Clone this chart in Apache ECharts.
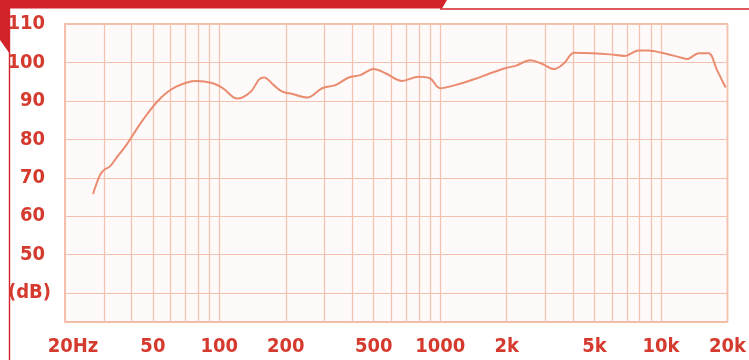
<!DOCTYPE html>
<html>
<head>
<meta charset="utf-8">
<script src="https://cdn.jsdelivr.net/npm/echarts@6/dist/echarts.min.js"></script>
<style>
html,body{margin:0;padding:0;background:#ffffff;}
#chart{width:749px;height:360px;}
</style>
</head>
<body>
<div id="chart"></div>
<script>
// Frequency response data (Hz, dB)
const freqHz = [26.8, 28.8, 30.3, 31.9, 34, 37.9, 45, 53.7, 63.8, 78.6, 93.4, 103.7, 120.5, 138.7, 151.4, 159.4, 176.3, 192.8, 214, 250, 292, 335, 385, 435, 500, 565, 671, 797, 898, 999, 1169, 1437, 1653, 1966, 2188, 2559, 2900, 3279, 3638, 4042, 4893, 5872, 6870, 7893, 8772, 10090, 12240, 13120, 14840, 16410, 17930, 19600];
const levelDb = [65.8, 70.7, 72.2, 72.9, 75.0, 78.5, 85.0, 90.5, 93.7, 95.2, 94.6, 93.3, 90.6, 92.4, 95.6, 96.1, 94.1, 92.4, 91.8, 90.9, 93.3, 94.1, 96.1, 96.7, 98.3, 97.2, 95.2, 96.3, 95.9, 93.3, 94.1, 95.7, 97.0, 98.5, 99.1, 100.6, 99.6, 98.3, 99.8, 102.5, 102.4, 102.1, 101.7, 103.1, 103.1, 102.5, 101.3, 100.9, 102.4, 102.4, 98.0, 93.5];

// Axis grid & labels
const xGridHz = [20, 30, 40, 50, 60, 70, 80, 90, 100, 200, 300, 400, 500, 600, 700, 800, 900, 1000, 2000, 3000, 4000, 5000, 6000, 7000, 8000, 9000, 10000, 20000];
const xLabelHz = [20, 50, 100, 200, 500, 1000, 2000, 5000, 10000, 20000];
const xLabelText = ['20Hz', '50', '100', '200', '500', '1000', '2k', '5k', '10k', '20k'];
const yTicks = [40, 50, 60, 70, 80, 90, 100, 110];
const yLabelText = ['(dB)', '50', '60', '70', '80', '90', '100', '110'];

const lg = v => Math.log10(v);
const seriesData = freqHz.map((f, i) => [lg(f), levelDb[i]]);

const RED = '#d2232a';
const LABEL = '#d53a2e';
const GRID = '#f5c2b1';
const FONT = "'Liberation Sans Narrow', 'DejaVu Sans Condensed', sans-serif";
const FS = 20;

const chart = echarts.init(document.getElementById('chart'), null, {renderer: 'canvas'});
chart.setOption({
  animation: false,
  backgroundColor: '#ffffff',
  grid: {
    left: 65, right: 19, top: 24, bottom: 38,
    show: true, backgroundColor: '#fefaf9', borderColor: '#f0a88f', borderWidth: 1.5
  },
  xAxis: {
    type: 'value',
    min: lg(20), max: lg(20000),
    axisLine: {show: false},
    axisTick: {show: false, customValues: xGridHz.map(lg)},
    splitLine: {show: true, lineStyle: {color: GRID, width: 1.2}},
    axisLabel: {
      customValues: xLabelHz.map(lg),
      margin: 15,
      color: LABEL, fontFamily: FONT, fontSize: FS, fontWeight: 'bold',
      formatter: function (v) {
        let idx = 0, best = 1e9;
        xLabelHz.forEach((h, i) => { const d = Math.abs(lg(h) - v); if (d < best) { best = d; idx = i; } });
        if (idx === 0) return '{first|' + xLabelText[0] + '}';
        return xLabelText[idx];
      },
      rich: {
        first: {color: LABEL, fontFamily: FONT, fontSize: FS, fontWeight: 'bold', padding: [0, 0, 0, 16]}
      }
    }
  },
  yAxis: {
    type: 'value',
    min: 32.5, max: 110,
    axisLine: {show: false},
    axisTick: {show: false, customValues: yTicks},
    splitLine: {show: true, lineStyle: {color: GRID, width: 1.2}},
    axisLabel: {
      customValues: yTicks,
      margin: 14,
      color: LABEL, fontFamily: FONT, fontSize: FS, fontWeight: 'bold',
      formatter: function (v) {
        const i = yTicks.indexOf(Math.round(v));
        if (i === 0) return yLabelText[0];
        return '{n|' + yLabelText[i] + '}';
      },
      rich: {
        n: {color: LABEL, fontFamily: FONT, fontSize: FS, fontWeight: 'bold', padding: [0, 6, 0, 0]}
      }
    }
  },
  series: [{
    type: 'line',
    data: seriesData,
    smooth: 0.35,
    showSymbol: false,
    lineStyle: {color: '#ea8c70', width: 2},
    z: 5
  }],
  graphic: [
    {
      type: 'polygon', silent: true,
      shape: {points: [[0, 0], [447, 0], [442, 8.5], [10, 8.5], [10, 54], [0, 40]]},
      style: {fill: RED}
    },
    {
      type: 'line', silent: true,
      shape: {x1: 440, y1: 9, x2: 749, y2: 9},
      style: {stroke: RED, lineWidth: 1.6}
    },
    {
      type: 'line', silent: true,
      shape: {x1: 9.5, y1: 8, x2: 9.5, y2: 360},
      style: {stroke: RED, lineWidth: 1.4}
    }
  ]
});
</script>
</body>
</html>
